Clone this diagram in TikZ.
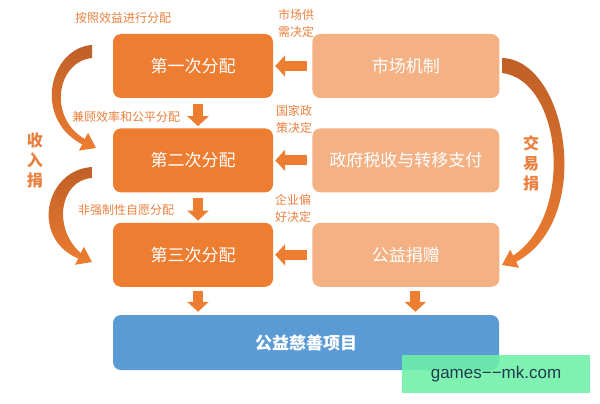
\documentclass[tikz,border=0pt]{standalone}
\usepackage{fontspec}
\setmainfont{Noto Sans CJK SC}
\newfontfamily\wmfont{Liberation Sans}
\usepackage{tikz}
\usetikzlibrary{positioning,arrows.meta,calc}
\definecolor{orgDark}{HTML}{ED7D31}
\definecolor{orgLight}{HTML}{F4B183}
\definecolor{orgText}{HTML}{E9803F}
\definecolor{orgDeep}{HTML}{BF5F27}
\definecolor{goalBlue}{HTML}{5B9BD5}
\definecolor{wmGreen}{HTML}{6DF0A6}
\definecolor{wmInk}{HTML}{1E3B4F}
\tikzset{
  box/.style={rounded corners=8pt,align=center,inner sep=0pt,text=white,
    minimum height=64pt,font=\fontsize{17}{20}\selectfont},
  lvl/.style={box,fill=orgDark,minimum width=160pt},
  src/.style={box,fill=orgLight,minimum width=187pt},
  goal/.style={box,fill=goalBlue,minimum width=386pt,minimum height=55pt,
    font=\fontsize{17}{20}\selectfont\bfseries},
  note/.style={text=orgText,align=center,inner sep=0pt,font=\fontsize{12}{17}\selectfont},
  side/.style={text=orgText,align=center,inner sep=0pt,font=\fontsize{16}{20}\selectfont\bfseries},
  blk/.style={draw=orgDark,line width=10pt,-{Triangle[width=21pt,length=10pt]}},
  swing/.style={top color=orgDeep,bottom color=orgDark,draw=none}
}

\begin{document}
\begin{tikzpicture}[x=1pt,y=-1pt]
\useasboundingbox (0,0) rectangle (600,404);

% distribution levels
\node[lvl] (l1) at (193,66) {第一次分配};
\node[lvl, below=30pt of l1] (l2) {第二次分配};
\node[lvl, below=30pt of l2] (l3) {第三次分配};

% mechanisms
\node[src, right=39pt of l1] (m1) {市场机制};
\node[src, right=39pt of l2] (m2) {政府税收与转移支付};
\node[src, right=39pt of l3] (m3) {公益捐赠};

\node[goal] (g) at (306,342.5) {公益慈善项目};

% labels
\node[note] (n1) at (123,18) {按照效益进行分配};
\node[note] (n2) at (126,117) {兼顾效率和公平分配};
\node[note] (n3) at (126,210) {非强制性自愿分配};
\node[note] (s1) at (296,23) {市场供\\需决定};
\node[note] (s2) at (294,119) {国家政\\策决定};
\node[note] (s3) at (293,208) {企业偏\\好决定};
\node[side] (inc) at (35,160) {收\\入\\捐};
\node[side] (trd) at (531,163) {交\\易\\捐};

% block arrows
\draw[blk, shorten <=6pt, shorten >=2pt] ([xshift=5pt]l1.south) -- ([xshift=5pt]l2.north);
\draw[blk, shorten <=5pt, shorten >=2pt] ([xshift=5pt]l2.south) -- ([xshift=5pt]l3.north);
\draw[blk, shorten <=5pt, shorten >=2pt] (m1) -- (l1);
\draw[blk, shorten <=5pt, shorten >=2pt] (m2) -- (l2);
\draw[blk, shorten <=5pt, shorten >=2pt] (m3) -- (l3);
\draw[blk, shorten <=4pt, shorten >=3pt] ([xshift=5pt]l3.south) -- ([xshift=5pt]l3.south |- g.north);
\draw[blk, shorten <=4pt, shorten >=3pt] ([xshift=9.5pt]m3.south) -- ([xshift=9.5pt]m3.south |- g.north);

% swinging donation arrows
\path[swing] (92,45) .. controls (50,48) and (32,118) .. (82.2,144.4)
  -- (79,150.6) -- (96,148) -- (88,132.8) -- (84.8,139)
  .. controls (48,118) and (56,62) .. (92,58) -- cycle;
\path[swing] (92,167) .. controls (45,170) and (30,238) .. (78.2,258.5)
  -- (75.1,264.8) -- (92,262) -- (83.9,246.8) -- (80.8,253.1)
  .. controls (52,228) and (60,180) .. (92,178) -- cycle;
\path[swing] (502,58) .. controls (568,60) and (595,220) .. (516.1,261.9)
  -- (519,267.8) -- (502,265) -- (510.2,249.8) -- (513.1,255.6)
  .. controls (575,215) and (562,80) .. (502,73) -- cycle;

% watermark
\node[fill=wmGreen, fill opacity=0.88, text opacity=1, minimum width=188pt,
  minimum height=38pt, inner sep=0pt, text=wmInk,
  font=\wmfont\fontsize{17}{20}\selectfont] (wm) at (496,374) {games−−mk.com};
\end{tikzpicture}
\end{document}
